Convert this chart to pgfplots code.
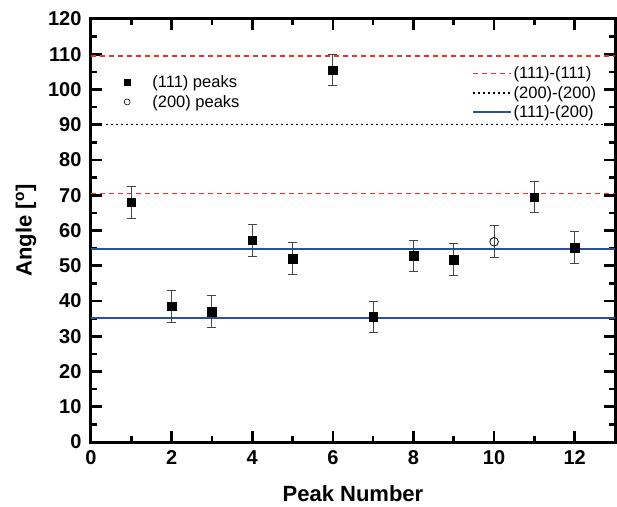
\documentclass[border=0pt]{standalone}
\usepackage{pgfplots}
\pgfplotsset{compat=1.18}
\usepackage{fontspec}
\setmainfont{Liberation Sans}
\definecolor{redl}{RGB}{240,50,40}
\definecolor{bluel}{RGB}{40,80,160}
\definecolor{errg}{RGB}{70,70,70}
\begin{document}
\begin{tikzpicture}
\pgfplotsset{
  common/.style={
    scale only axis, width=524pt, height=423pt,
    xmin=0, xmax=13, ymin=0, ymax=120,
  },
}
\begin{axis}[
  common, hide axis,
  legend style={at={(0.052,0.871)}, anchor=north west, draw=none, fill=none,
    font=\fontsize{16.5}{19}\selectfont, row sep=3.5pt, inner sep=0pt,
    nodes={inner sep=1.5pt}},
  legend cell align=left,
  legend image code/.code={\path (0pt,0pt) (32pt,0pt); \draw[#1] plot coordinates {(8.5pt,0pt)};},
]
\addlegendimage{only marks, mark=square*, mark size=3pt, black}
\addlegendentry{(111) peaks}
\addlegendimage{only marks, mark=o, mark size=3pt, black, mark options={line width=0.6pt}}
\addlegendentry{(200) peaks}
\end{axis}
\begin{axis}[
  common, name=main,
  xtick={0,2,...,12}, minor xtick={1,3,...,13},
  ytick={0,10,...,120}, minor ytick={5,15,...,115},
  tick align=inside,
  major tick length=11pt, minor tick length=6.5pt,
  axis line style={line width=3pt},
  major tick style={black, line width=2.6pt},
  minor tick style={black, line width=2.6pt},
  tick label style={font=\bfseries\fontsize{20}{22}\selectfont},
  /pgf/number format/assume math mode=true,
  yticklabel style={xshift=-6pt},
  xticklabel style={yshift=-5pt},
  xlabel={Peak Number}, ylabel={Angle [\textsuperscript{o}]},
  every axis x label/.style={at={(axis description cs:0.5,0)}, yshift=-52pt, anchor=center,
    font=\bfseries\fontsize{22}{24}\selectfont},
  every axis y label/.style={at={(axis description cs:0,0.5)}, xshift=-65pt, rotate=90, anchor=center,
    font=\bfseries\fontsize{22}{24}\selectfont},
  legend style={at={(0.727,0.891)}, anchor=north west, draw=none, fill=none,
    font=\fontsize{16.5}{19}\selectfont, row sep=3pt, inner sep=0pt,
    nodes={inner sep=1.5pt}},
  legend cell align=left,
]
\addplot[redl, line width=1.5pt, dash pattern=on 5pt off 4pt,
  legend image code/.code={\draw[redl, line width=1.5pt, dash pattern=on 5pt off 4pt] (0pt,0pt) -- (38pt,0pt);}]
  coordinates {(0,109.47) (13,109.47)};
\addlegendentry{(111)-(111)}
\addplot[black, line width=1.5pt, dash pattern=on 1.5pt off 3.5pt,
  legend image code/.code={\draw[black, line width=1.5pt, dash pattern=on 1.5pt off 3.5pt] (0pt,0pt) -- (38pt,0pt);}]
  coordinates {(0,90) (13,90)};
\addlegendentry{(200)-(200)}
\addplot[bluel, line width=2pt,
  legend image code/.code={\draw[bluel, line width=2pt] (0pt,0pt) -- (38pt,0pt);}]
  coordinates {(0,54.74) (13,54.74)};
\addlegendentry{(111)-(200)}
\addplot[redl, line width=1.5pt, dash pattern=on 5pt off 4pt, forget plot] coordinates {(0,70.53) (13,70.53)};
\addplot[bluel, line width=2pt, forget plot] coordinates {(0,35.26) (13,35.26)};
\addplot[only marks, mark=square*, mark size=4.3pt, black, forget plot,
  error bars/.cd, y dir=both, y explicit,
  error bar style={errg, line width=1pt},
  error mark options={errg, rotate=90, mark size=4.5pt, line width=1pt}]
  coordinates {
  (1,68) +- (0,4.5)
  (2,38.5) +- (0,4.5)
  (3,37) +- (0,4.5)
  (4,57.2) +- (0,4.5)
  (5,52) +- (0,4.5)
  (6,105.5) +- (0,4.5)
  (7,35.5) +- (0,4.5)
  (8,52.8) +- (0,4.5)
  (9,51.8) +- (0,4.5)
  (11,69.5) +- (0,4.5)
  (12,55.2) +- (0,4.5)
  };
\addplot[only marks, mark=o, mark size=4.3pt, black, forget plot, mark options={fill=white, line width=0.8pt},
  error bars/.cd, y dir=both, y explicit,
  error bar style={errg, line width=1pt},
  error mark options={errg, rotate=90, mark size=4.5pt, line width=1pt}]
  coordinates {
  (10,56.8) +- (0,4.5)
  };
\end{axis}
\path (main.north west) ++(-91pt,19pt) (main.south east) ++(2pt,-64pt);
\end{tikzpicture}
\end{document}
